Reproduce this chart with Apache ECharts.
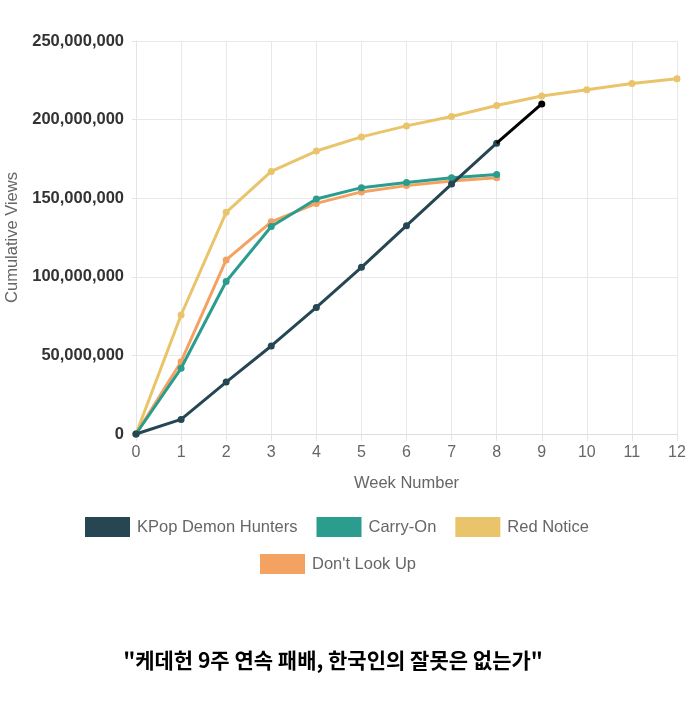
<!DOCTYPE html>
<html><head><meta charset="utf-8">
<script src="https://cdn.jsdelivr.net/npm/echarts@6/dist/echarts.min.js"></script>
<style>html,body{margin:0;padding:0;background:#fff}#c{width:697px;height:714px}</style>
</head><body><div id="c"></div>
<script>
const weeks = ['0','1','2','3','4','5','6','7','8','9','10','11','12'];
const kpop = [0, 9300000, 33000000, 56000000, 80500000, 106000000, 132500000, 159000000, 185000000];
const kpopLatest = [null, null, null, null, null, null, null, null, 185000000, 210000000];
const carryOn = [0, 41800000, 97000000, 132000000, 149500000, 156700000, 160000000, 163000000, 165000000];
const redNotice = [0, 75700000, 141000000, 167000000, 180000000, 189000000, 196000000, 202000000, 209000000, 215000000, 219000000, 223000000, 226000000];
const dontLookUp = [0, 46000000, 110700000, 135000000, 146700000, 154000000, 158000000, 161000000, 163000000];
const yTicks = [0, 50000000, 100000000, 150000000, 200000000, 250000000];
const names = ['KPop Demon Hunters', 'Carry-On', 'Red Notice', "Don't Look Up"];
const colors = ['#264653', '#2A9D8F', '#E9C46A', '#F4A261'];
const titleText = '"케데헌 9주 연속 패배, 한국인의 잘못은 없는가"';

const chart = echarts.init(document.getElementById('c'));
const mk = (name, data, color, z) => ({
  name, type: 'line', data, color, z,
  symbol: 'circle', symbolSize: 7, showSymbol: true,
  lineStyle: { width: 3, color }, itemStyle: { color },
  emphasis: { disabled: true }
});
const legendBase = {
  itemWidth: 45, itemHeight: 20, itemGap: 19, icon: 'rect', padding: 0,
  textStyle: { color: '#666', fontSize: 16.5, padding: [0, 0, 0, 2] }
};
chart.setOption({
  animation: false,
  textStyle: { fontFamily: 'Liberation Sans, Arial, sans-serif' },
  graphic: [{
    type: 'text', x: 333, y: 650,
    style: {
      text: titleText, align: 'center', textAlign: 'center',
      fontFamily: 'Noto Sans CJK KR', fontWeight: 'bold', fontSize: 21, fill: '#000'
    }
  }],
  legend: [
    Object.assign({}, legendBase, { data: names.slice(0, 3), top: 517, left: 85 }),
    Object.assign({}, legendBase, { data: names.slice(3), top: 554, left: 260 })
  ],
  grid: { left: 136, right: 20, top: 41, bottom: 280, containLabel: false, outerBoundsMode: 'none' },
  xAxis: {
    type: 'category', data: weeks, boundaryGap: false,
    name: 'Week Number', nameLocation: 'middle', nameGap: 41,
    nameTextStyle: { color: '#666', fontSize: 16.5 },
    axisLine: { show: true, lineStyle: { color: '#ddd' } },
    axisTick: { show: true, length: 7, lineStyle: { color: '#e5e5e5' } },
    axisLabel: { color: '#666', fontSize: 16, margin: 11 },
    splitLine: { show: true, lineStyle: { color: '#e8e8e8' } }
  },
  yAxis: {
    type: 'value', min: 0, max: 250000000, interval: 50000000,
    name: 'Cumulative Views', nameLocation: 'middle', nameGap: 111,
    nameTextStyle: { color: '#666', fontSize: 16.5 },
    axisLine: { show: true, lineStyle: { color: '#e5e5e5' } },
    axisTick: { show: true, length: 4, lineStyle: { color: '#e5e5e5' } },
    axisLabel: {
      color: '#333', fontSize: 16.5, fontWeight: 'bold', margin: 12,
      formatter: v => yTicks.includes(v) ? v.toLocaleString('en-US') : ''
    },
    splitLine: { show: true, lineStyle: { color: '#e8e8e8' } }
  },
  series: [
    mk(names[2], redNotice, colors[2], 2),
    mk(names[3], dontLookUp, colors[3], 3),
    mk(names[1], carryOn, colors[1], 4),
    mk(names[0], kpop, colors[0], 5),
    {
      name: 'KPop latest', type: 'line', z: 6,
      data: kpopLatest.map((v, i) => i === 8 ? { value: v, symbol: 'none' } : v),
      symbol: 'circle', symbolSize: 7,
      lineStyle: { width: 3, color: '#000' }, itemStyle: { color: '#000' },
      emphasis: { disabled: true }
    }
  ]
});
</script></body></html>
